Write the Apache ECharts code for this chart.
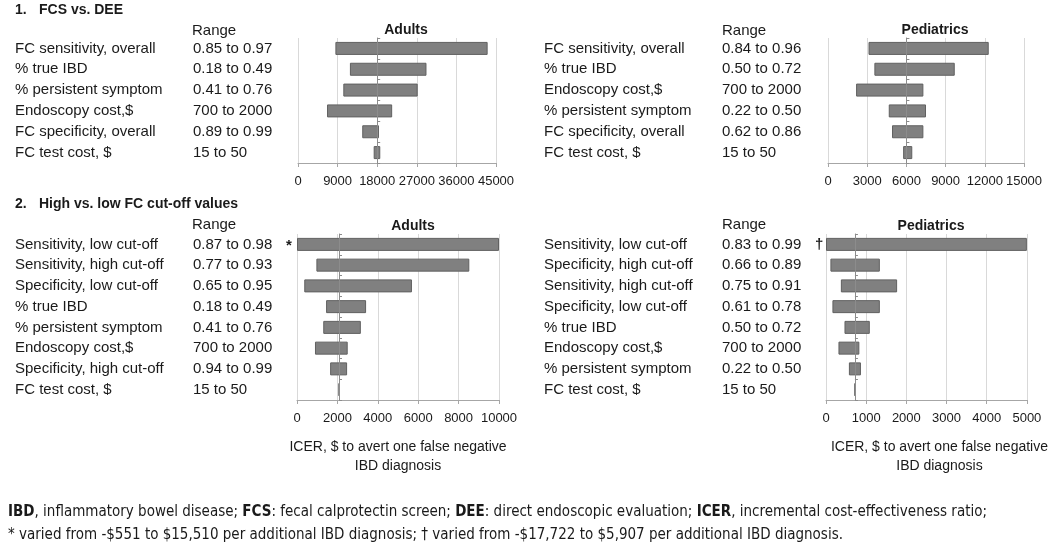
<!DOCTYPE html>
<html>
<head>
<meta charset="utf-8">
<script src="https://cdn.jsdelivr.net/npm/echarts@6/dist/echarts.min.js"></script>
<style>
  html, body { margin: 0; padding: 0; background: #fff; }
  #chart { width: 1050px; height: 551px; }
</style>
</head>
<body>
<div id="chart"></div>
<script>
// 1. FCS vs. DEE - adults
const fcsAdultLabels = ['FC sensitivity, overall', '% true IBD', '% persistent symptom', 'Endoscopy cost,$', 'FC specificity, overall', 'FC test cost, $'];
const fcsAdultRanges = ['0.85 to 0.97', '0.18 to 0.49', '0.41 to 0.76', '700 to 2000', '0.89 to 0.99', '15 to 50'];
const fcsAdultLow = [8500, 11800, 10300, 6600, 14600, 17200];
const fcsAdultHigh = [43100, 29200, 27200, 21400, 18400, 18700];
const fcsAdultBase = 18000;
const fcsAdultTicks = [0, 45000, 9000];

// 1. FCS vs. DEE - pediatrics
const fcsPedLabels = ['FC sensitivity, overall', '% true IBD', 'Endoscopy cost,$', '% persistent symptom', 'FC specificity, overall', 'FC test cost, $'];
const fcsPedRanges = ['0.84 to 0.96', '0.50 to 0.72', '700 to 2000', '0.22 to 0.50', '0.62 to 0.86', '15 to 50'];
const fcsPedLow = [3100, 3550, 2150, 4650, 4900, 5750];
const fcsPedHigh = [12300, 9700, 7300, 7500, 7300, 6450];
const fcsPedBase = 6000;
const fcsPedTicks = [0, 15000, 3000];

// 2. High vs. low FC cut-off - adults
const cutAdultLabels = ['Sensitivity, low cut-off', 'Sensitivity, high cut-off', 'Specificity, low cut-off', '% true IBD', '% persistent symptom', 'Endoscopy cost,$', 'Specificity, high cut-off', 'FC test cost, $'];
const cutAdultRanges = ['0.87 to 0.98', '0.77 to 0.93', '0.65 to 0.95', '0.18 to 0.49', '0.41 to 0.76', '700 to 2000', '0.94 to 0.99', '15 to 50'];
const cutAdultLow = [-551, 960, 360, 1440, 1300, 890, 1640, 2065];
const cutAdultHigh = [15510, 8530, 5690, 3420, 3160, 2510, 2480, 2095];
const cutAdultBase = 2080;
const cutAdultTicks = [0, 10000, 2000];

// 2. High vs. low FC cut-off - pediatrics
const cutPedLabels = ['Sensitivity, low cut-off', 'Specificity, high cut-off', 'Sensitivity, high cut-off', 'Specificity, low cut-off', '% true IBD', 'Endoscopy cost,$', '% persistent symptom', 'FC test cost, $'];
const cutPedRanges = ['0.83 to 0.99', '0.66 to 0.89', '0.75 to 0.91', '0.61 to 0.78', '0.50 to 0.72', '700 to 2000', '0.22 to 0.50', '15 to 50'];
const cutPedLow = [-17722, 110, 370, 160, 460, 310, 570, 712];
const cutPedHigh = [5907, 1340, 1770, 1340, 1090, 830, 870, 728];
const cutPedBase = 720;
const cutPedTicks = [0, 5000, 1000];

const FONT = '"Liberation Sans", Arial, sans-serif';
const NARROW = '"Liberation Sans Narrow", "DejaVu Sans Condensed", sans-serif';
const TXT = '#1a1a1a';
const BAR = '#808080';

const panels = [
    { labels: fcsAdultLabels, ranges: fcsAdultRanges, low: fcsAdultLow, high: fcsAdultHigh, base: fcsAdultBase, ticks: fcsAdultTicks,
      grid: { left: 298, top: 38, width: 198, height: 125 }, labelX: 15, tickSize: 13 },
    { labels: fcsPedLabels, ranges: fcsPedRanges, low: fcsPedLow, high: fcsPedHigh, base: fcsPedBase, ticks: fcsPedTicks,
      grid: { left: 828, top: 38, width: 196, height: 125 }, labelX: 544, tickSize: 13 },
    { labels: cutAdultLabels, ranges: cutAdultRanges, low: cutAdultLow, high: cutAdultHigh, base: cutAdultBase, ticks: cutAdultTicks,
      grid: { left: 297, top: 234, width: 202, height: 166 }, labelX: 15, tickSize: 13, axisName: true, namePad: 0 },
    { labels: cutPedLabels, ranges: cutPedRanges, low: cutPedLow, high: cutPedHigh, base: cutPedBase, ticks: cutPedTicks,
      grid: { left: 826, top: 234, width: 204, height: 166 }, labelX: 544, tickSize: 13, axisName: true, namePad: 26 }
];

const grid = [], xAxis = [], yAxis = [], series = [];

panels.forEach(function (p, i) {
    const min = p.ticks[0], max = p.ticks[1];
    grid.push(Object.assign({ containLabel: false }, p.grid));
    xAxis.push({
        type: 'value', gridIndex: i, min: min, max: max, interval: p.ticks[2],
        axisLine: { show: true, lineStyle: { color: '#a6a6a6' } },
        axisTick: { show: true, length: 4, lineStyle: { color: '#a6a6a6' } },
        splitLine: { show: true, lineStyle: { color: '#d9d9d9' } },
        axisLabel: { color: TXT, fontFamily: FONT, fontSize: p.tickSize, margin: 12, formatter: function (v) { return String(v); } },
        name: p.axisName ? 'ICER, $ to avert one false negative\nIBD diagnosis' : '',
        nameLocation: 'middle', nameGap: 38,
        nameTextStyle: { color: TXT, fontFamily: FONT, fontSize: 14, lineHeight: 19, padding: [0, 0, 0, p.namePad || 0] }
    });
    // category axis holding the parameter names and ranges
    yAxis.push({
        type: 'category', gridIndex: i, inverse: true, data: p.labels,
        axisLine: { show: false }, axisTick: { show: false },
        axisLabel: {
            align: 'left', margin: p.grid.left - p.labelX,
            formatter: function (v, idx) { return '{n|' + v + '}{r|' + p.ranges[idx] + '}'; },
            rich: {
                n: { width: 178, fontFamily: FONT, fontSize: 15, color: TXT },
                r: { fontFamily: FONT, fontSize: 15, color: TXT }
            }
        }
    });
    const lowC = p.low.map(function (v) { return Math.max(v, min); });
    const lenC = p.high.map(function (v, k) { return Math.min(v, max) - lowC[k]; });
    series.push({
        type: 'bar', xAxisIndex: i, yAxisIndex: i, stack: 's' + i, silent: true,
        itemStyle: { color: 'transparent' }, barWidth: 13, data: lowC
    });
    series.push({
        type: 'bar', xAxisIndex: i, yAxisIndex: i, stack: 's' + i, silent: true,
        itemStyle: { color: BAR, borderColor: '#606060', borderWidth: 1 }, barWidth: 13, data: lenC
    });
});

// base-value axis lines (placed after first render)
panels.forEach(function (p, i) {
    yAxis.push({
        type: 'category', gridIndex: i, inverse: true, data: p.labels, position: 'left', offset: 0, z: 5,
        axisLine: { show: true, lineStyle: { color: '#8c8c8c' } },
        axisTick: { show: true, length: 3, inside: true, lineStyle: { color: '#8c8c8c' } },
        axisLabel: { show: false }, splitLine: { show: false }
    });
});

const hdr = { fontFamily: FONT, fontSize: 14, fontWeight: 'bold', fill: TXT };
const txt = { fontFamily: FONT, fontSize: 15, fill: TXT };
const ttl = { fontFamily: FONT, fontSize: 14, fontWeight: 'bold', color: TXT };

const chart = echarts.init(document.getElementById('chart'));
chart.setOption({
    animation: false,
    backgroundColor: '#fff',
    title: [
        { text: 'Adults', left: 401, top: 18, textAlign: 'center', textStyle: ttl },
        { text: 'Pediatrics', left: 930, top: 18, textAlign: 'center', textStyle: ttl },
        { text: 'Adults', left: 408, top: 214, textAlign: 'center', textStyle: ttl },
        { text: 'Pediatrics', left: 926, top: 214, textAlign: 'center', textStyle: ttl }
    ],
    grid: grid, xAxis: xAxis, yAxis: yAxis, series: series,
    graphic: [
        { type: 'text', left: 15, top: 3, style: Object.assign({ text: '1.' }, hdr) },
        { type: 'text', left: 39, top: 3, style: Object.assign({ text: 'FCS vs. DEE' }, hdr) },
        { type: 'text', left: 15, top: 197, style: Object.assign({ text: '2.' }, hdr) },
        { type: 'text', left: 39, top: 197, style: Object.assign({ text: 'High vs. low FC cut-off values' }, hdr) },
        { type: 'text', left: 192, top: 23, style: Object.assign({ text: 'Range' }, txt) },
        { type: 'text', left: 722, top: 23, style: Object.assign({ text: 'Range' }, txt) },
        { type: 'text', left: 192, top: 217, style: Object.assign({ text: 'Range' }, txt) },
        { type: 'text', left: 722, top: 217, style: Object.assign({ text: 'Range' }, txt) },
        { type: 'text', left: 286, top: 238, style: { text: '*', fontFamily: FONT, fontSize: 15, fontWeight: 'bold', fill: TXT } },
        { type: 'text', left: 815, top: 237, style: { text: '\u2020', fontFamily: FONT, fontSize: 15, fontWeight: 'bold', fill: TXT } },
        {
            type: 'text', left: 8, top: 501,
            style: {
                text: '{b|IBD}, inflammatory bowel disease; {b|FCS}: fecal calprotectin screen; {b|DEE}: direct endoscopic evaluation; {b|ICER}, incremental cost-effectiveness ratio;\n' +
                      '* varied from -$551 to $15,510 per additional IBD diagnosis; \u2020 varied from -$17,722 to $5,907 per additional IBD diagnosis.',
                fontFamily: NARROW, fontSize: 15, lineHeight: 23, fill: TXT,
                rich: { b: { fontFamily: NARROW, fontSize: 15, lineHeight: 23, fontWeight: 'bold', fill: TXT } }
            }
        }
    ]
});

// move the base-value axis to the base value of each panel
const offsets = panels.map(function (p, i) {
    const px = chart.convertToPixel({ xAxisIndex: i }, p.base);
    return { offset: -(px - p.grid.left) };
});
chart.setOption({ yAxis: yAxis.map(function (a, k) { return k < 4 ? {} : offsets[k - 4]; }) });
</script>
</body>
</html>
